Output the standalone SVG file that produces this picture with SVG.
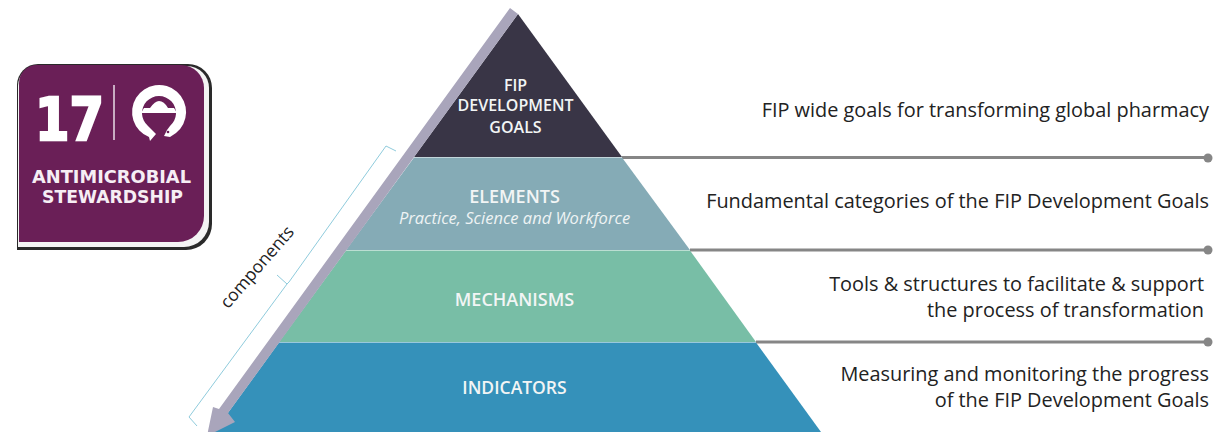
<svg xmlns="http://www.w3.org/2000/svg" width="1226" height="432" viewBox="0 0 1226 432">
<style>
text{font-family:"Open Sans","Noto Sans","Liberation Sans",sans-serif}
.desc{font-size:19.9px;fill:#222;text-anchor:end}
.tier{font-size:18px;font-weight:600;fill:#f2f5f5;text-anchor:middle}
.top{font-size:16px}
.logo{font-size:17px;font-weight:700;fill:#f6eef4;text-anchor:middle;font-family:"DejaVu Sans",sans-serif}
.lead{stroke:#868686;stroke-width:3;fill:none}
.dot{fill:#868686}
.br{stroke:#8fcbdc;stroke-width:1;fill:none}
</style>
<rect width="1226" height="432" fill="#fff"/>
<g id="logo">
<path d="M17 250H186A26 26 0 0 0 212 224V88A24 24 0 0 0 188 64H38A21 21 0 0 0 17 85Z" fill="#2a2a2a"/>
<path d="M18 247H184A25 25 0 0 0 209 222V88A22 22 0 0 0 187 66H38A20 20 0 0 0 18 86Z" fill="#f4f4f4"/>
<path d="M19 242H178A26 26 0 0 0 204 216V88A23 23 0 0 0 181 65H37A18 18 0 0 0 19 83Z" fill="#6a1f57"/>
<text x="35" y="140" font-size="59" font-weight="700" fill="#fff" stroke="#fff" stroke-width="2.500" textLength="69" lengthAdjust="spacingAndGlyphs" style="font-family:'DejaVu Sans',sans-serif">17</text>
<path d="M114 85V140" stroke="#e9dde6" stroke-width="1.5"/>
<path d="M149 137A27 27 0 1 1 176 133L170 137L164 136L167 130L170 126A17 17 0 1 0 148 126L156 134L150 141Z" fill="#fff"/>
<circle cx="168" cy="132" r="1.300" fill="#6a1f57"/>
<path d="M141 113L144 108H150Q155 101 159 101Q164 101 168 108H174L177 113Z" fill="#fff"/>
<text class="logo" x="111.500" y="183" textLength="159" lengthAdjust="spacingAndGlyphs">ANTIMICROBIAL</text>
<text class="logo" x="112.500" y="203" textLength="141" lengthAdjust="spacingAndGlyphs">STEWARDSHIP</text>
</g>
<g id="connectors">
<path class="lead" d="M622 157.500H1208M690 250H1208M756 342H1208"/>
<circle class="dot" cx="1208" cy="158" r="4.500"/>
<circle class="dot" cx="1208" cy="250" r="4.500"/>
<circle class="dot" cx="1208" cy="342" r="4.500"/>
</g>
<g id="tier-indicators">
<path d="M279 342.500H756L821 432H214Z" fill="#3591ba"/>
<text class="tier" x="514.500" y="394" style="font-size:17.500px">INDICATORS</text>
</g>
<g id="tier-mechanisms">
<path d="M346 250.500H690L756 342H279Z" fill="#78bea6"/>
<text class="tier" x="514.500" y="306">MECHANISMS</text>
</g>
<g id="tier-elements">
<path d="M414 157.500H622L690 250H346Z" fill="#85abb6"/>
<text class="tier" x="514.500" y="203">ELEMENTS</text>
<text x="514.500" y="224" font-size="16.500" font-style="italic" fill="#eef3f4" text-anchor="middle">Practice, Science and Workforce</text>
</g>
<g id="tier-goals">
<path d="M518 14L622 157H414Z" fill="#393546"/>
<text class="tier top" x="515.500" y="91">FIP</text>
<text class="tier top" x="515.500" y="111">DEVELOPMENT</text>
<text class="tier top" x="515.500" y="132.500">GOALS</text>
</g>
<g id="components-arrow">
<path d="M510 8L518 14L228 413L235 422L207 436L213 407L219 409Z" fill="#a9a5bb"/>
<path class="br" d="M396 151L386 146L289 282L287 284L277 275M287 284L189 417L197 426"/>
<text x="261.500" y="271" font-size="17.500" fill="#222" text-anchor="middle" transform="rotate(-49 261.500 271)">components</text>
</g>
<g id="descriptions">
<text class="desc" x="1209" y="117">FIP wide goals for transforming global pharmacy</text>
<text class="desc" x="1209" y="208">Fundamental categories of the FIP Development Goals</text>
<text class="desc" x="1204" y="291">Tools &amp; structures to facilitate &amp; support</text>
<text class="desc" x="1204" y="317">the process of transformation</text>
<text class="desc" x="1209" y="381">Measuring and monitoring the progress</text>
<text class="desc" x="1209" y="407">of the FIP Development Goals</text>
</g>
</svg>
